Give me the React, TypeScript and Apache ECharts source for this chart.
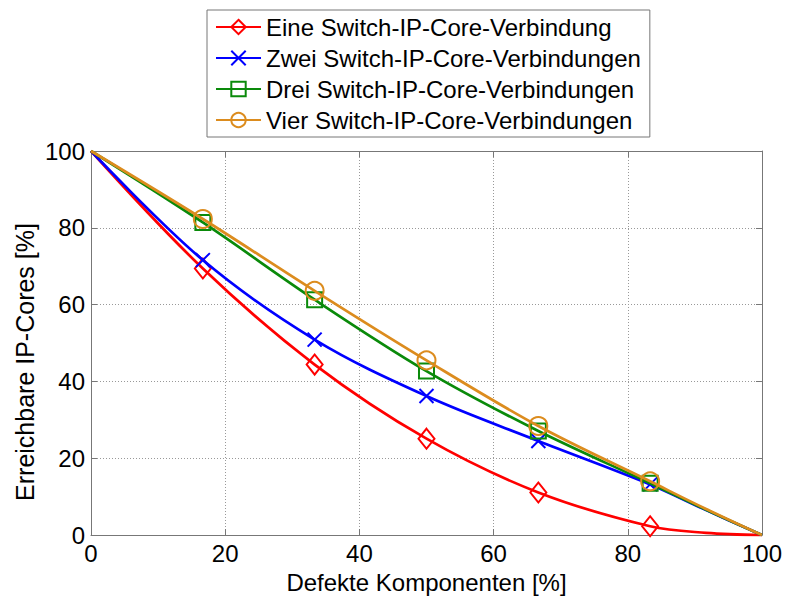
import React, { useEffect, useRef } from "react";
import * as echarts from "echarts";

const FONT = "'Liberation Sans', Arial, sans-serif";

const xValues = [0, 16.67, 33.33, 50, 66.67, 83.33, 91.67, 100];
const markerAt = [false, true, true, true, true, true, false, false];

const seriesNames = [
  "Eine Switch-IP-Core-Verbindung",
  "Zwei Switch-IP-Core-Verbindungen",
  "Drei Switch-IP-Core-Verbindungen",
  "Vier Switch-IP-Core-Verbindungen",
];

const eineValues = [100, 69.4, 44.4, 25.1, 11.1, 2.3, 0.6, 0];
const zweiValues = [100, 71.6, 50.9, 36.2, 24.5, 13.2, 6.5, 0];
const dreiValues = [100, 81.4, 61.3, 42.7, 27.1, 13.5, 6.6, 0];
const vierValues = [100, 82.3, 63.6, 45.5, 28.4, 14.0, 6.8, 0];

const xTicks = { min: 0, max: 100, interval: 20 };
const yTicks = { min: 0, max: 100, interval: 20 };

const xAxisTitle = "Defekte Komponenten [%]";
const yAxisTitle = "Erreichbare IP-Cores [%]";

const colors = ["#ff0000", "#0000ff", "#0a8a0a", "#dc8c1e"];
const symbols = ["diamond", "path://M0,0L10,10M10,0L0,10", "rect", "circle"];
const symbolSizes: any[] = [[16, 20], 14, 15, 18];

function build(values: number[]) {
  return values.map((v, i) =>
    markerAt[i] ? [xValues[i], v] : { value: [xValues[i], v], symbol: "none" }
  );
}

export default function App() {
  const ref = useRef<HTMLDivElement>(null);
  useEffect(() => {
    if (!ref.current) return;
    const chart = echarts.init(ref.current, null, { renderer: "svg" });
    const axisColor = "#777";
    const allValues = [eineValues, zweiValues, dreiValues, vierValues];
    const baseAxis = {
      type: "value",
      axisLine: { show: true, onZero: false, lineStyle: { color: axisColor, width: 1 } },
      axisTick: { show: true, inside: true, length: 6, lineStyle: { color: axisColor } },
    };
    chart.setOption({
      animation: false,
      backgroundColor: "#fff",
      grid: { left: 91, right: 23, top: 151, bottom: 62, containLabel: false },
      legend: {
        orient: "vertical",
        left: 207,
        top: 10,
        padding: [5, 9, 5, 8],
        itemWidth: 45,
        itemHeight: 18,
        itemGap: 7,
        borderColor: "#777",
        borderWidth: 1,
        backgroundColor: "#fff",
        textStyle: { fontSize: 24, color: "#000", fontFamily: FONT },
        data: seriesNames,
      },
      graphic: [
        {
          type: "text",
          x: 25,
          y: 362,
          rotation: Math.PI / 2,
          style: {
            text: yAxisTitle,
            fill: "#000",
            font: `25px ${FONT}`,
            textAlign: "center",
            textVerticalAlign: "middle",
          },
        },
      ],
      xAxis: [
        {
          ...baseAxis,
          ...xTicks,
          position: "bottom",
          axisLabel: { color: "#000", fontSize: 24, margin: 6, fontFamily: FONT },
          splitLine: { show: true, lineStyle: { type: [1, 2], color: "#999" } },
          name: xAxisTitle,
          nameLocation: "middle",
          nameGap: 31,
          nameTextStyle: { color: "#000", fontSize: 24, fontFamily: FONT },
        },
        {
          ...baseAxis,
          ...xTicks,
          position: "top",
          axisLabel: { show: false },
          splitLine: { show: false },
        },
      ],
      yAxis: [
        {
          ...baseAxis,
          ...yTicks,
          position: "left",
          axisLabel: { color: "#000", fontSize: 24, margin: 6, fontFamily: FONT },
          splitLine: { show: true, lineStyle: { type: [1, 2], color: "#999" } },
        },
        {
          ...baseAxis,
          ...yTicks,
          position: "right",
          axisLabel: { show: false },
          splitLine: { show: false },
        },
      ],
      series: seriesNames.map((name, k) => ({
        name,
        type: "line",
        data: build(allValues[k]),
        smooth: 0.35,
        showAllSymbol: true,
        symbol: symbols[k],
        symbolSize: symbolSizes[k],
        itemStyle: { color: "rgba(255,255,255,0)", borderColor: colors[k], borderWidth: 2 },
        lineStyle: { color: colors[k], width: 2.7 },
        emphasis: { disabled: true },
        z: 2 + k,
      })),
    });
    return () => chart.dispose();
  }, []);
  return (
    <div
      ref={ref}
      style={{ position: "fixed", left: 0, top: 0, width: 785, height: 599 }}
    />
  );
}
